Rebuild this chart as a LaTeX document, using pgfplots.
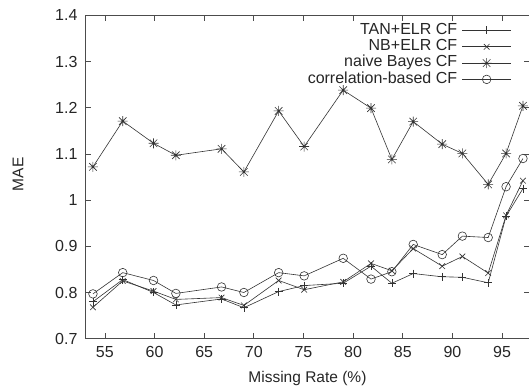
\documentclass[border=0pt]{standalone}
\usepackage{pgfplots}
\pgfplotsset{compat=1.18}
\usepackage{pgfplotstable}
\usepackage{fontspec}
\setmainfont{Liberation Sans}
\pgfdeclareplotmark{plusx}{%
  \pgfpathmoveto{\pgfqpoint{-\pgfplotmarksize}{0pt}}%
  \pgfpathlineto{\pgfqpoint{\pgfplotmarksize}{0pt}}%
  \pgfpathmoveto{\pgfqpoint{0pt}{-\pgfplotmarksize}}%
  \pgfpathlineto{\pgfqpoint{0pt}{\pgfplotmarksize}}%
  \pgfpathmoveto{\pgfqpoint{-0.75\pgfplotmarksize}{-0.75\pgfplotmarksize}}%
  \pgfpathlineto{\pgfqpoint{0.75\pgfplotmarksize}{0.75\pgfplotmarksize}}%
  \pgfpathmoveto{\pgfqpoint{-0.75\pgfplotmarksize}{0.75\pgfplotmarksize}}%
  \pgfpathlineto{\pgfqpoint{0.75\pgfplotmarksize}{-0.75\pgfplotmarksize}}%
  \pgfusepathqstroke}
\pgfplotstableread{
x      tan    nb     naive  corr
53.8   0.780  0.768  1.072  0.797
56.8   0.828  0.825  1.171  0.843
59.9   0.800  0.803  1.123  0.826
62.15  0.773  0.785  1.097  0.798
66.75  0.786  0.789  1.111  0.812
69.0   0.767  0.772  1.061  0.800
72.5   0.802  0.826  1.193  0.843
75.07  0.815  0.806  1.116  0.836
79.0   0.820  0.823  1.238  0.874
81.8   0.857  0.863  1.199  0.829
83.9   0.820  0.847  1.088  0.845
86.05  0.841  0.895  1.170  0.904
88.97  0.834  0.857  1.121  0.882
91.0   0.833  0.878  1.101  0.922
93.6   0.821  0.842  1.034  0.919
95.4   0.965  0.967  1.101  1.029
97.1   1.025  1.042  1.204  1.090
}\datatable
\begin{document}
\begin{tikzpicture}
\begin{axis}[
  name=ax,
  scale only axis,
  width=444.9pt, height=323.4pt,
  xmin=53.0, xmax=97.8,
  ymin=0.7, ymax=1.4,
  xtick={55,60,...,95},
  ytick={0.7,0.8,...,1.41},
  tick align=inside,
  major tick length=6pt,
  xtick pos=both, ytick pos=both,
  axis line style={black!70, line width=0.9pt},
  every tick/.style={black!70, line width=0.7pt},
  /pgf/number format/assume math mode=true,
  yticklabel style={/pgf/number format/fixed, /pgf/number format/precision=1, xshift=-4pt},
  xticklabel style={yshift=-4pt},
  tick label style={font=\fontsize{16}{19}\selectfont, text=black!85},
  label style={font=\fontsize{15.5}{19}\selectfont, text=black!85},
  xlabel={Missing Rate (\%)},
  ylabel={MAE},
  xlabel style={at={(axis description cs:0.5,-0.134)}, anchor=base},
  ylabel style={at={(axis description cs:-0.1506,0.508)}, anchor=center},
  legend style={draw=none, fill=none, at={(axis description cs:0.965,0.985)}, anchor=north east,
    font=\fontsize{16}{19}\selectfont, text=black!85,
    nodes={inner sep=0pt, text height=12pt, text depth=4.3pt},
    column sep=5pt},
  legend cell align=right,
  legend plot pos=right,
  legend image code/.code={\draw[mark repeat=2,mark phase=2] plot coordinates {(0cm,0cm)(0.85cm,0cm)(1.7cm,0cm)};},
  every axis plot/.append style={black!80, line width=0.6pt},
]
\addplot[mark=+, mark size=4pt] table[x=x,y=tan] {\datatable};
\addlegendentry{TAN+ELR CF}
\addplot[mark=x, mark size=4pt] table[x=x,y=nb] {\datatable};
\addlegendentry{NB+ELR CF}
\addplot[mark=plusx, mark size=5pt] table[x=x,y=naive] {\datatable};
\addlegendentry{naive Bayes CF}
\addplot[mark=o, mark size=4.3pt, mark options={fill=none}] table[x=x,y=corr] {\datatable};
\addlegendentry{correlation-based CF}
\end{axis}
\pgfresetboundingbox
\path[use as bounding box] ([xshift=-85pt,yshift=-47.3pt]ax.south west) rectangle ([xshift=444pt,yshift=15.3pt]ax.north west);
\end{tikzpicture}
\end{document}
